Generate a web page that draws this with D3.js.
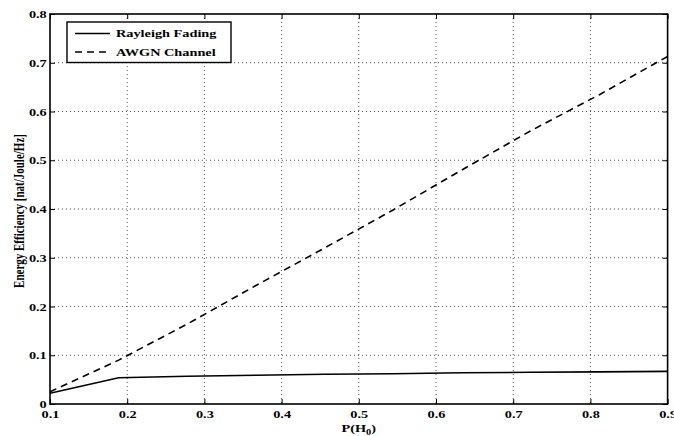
<!DOCTYPE html>
<meta charset="utf-8">
<style>
body { margin: 0; background: #fff; }
svg text { font-family: "Liberation Serif", "Times New Roman", serif; font-weight: bold; font-size: 11px; fill: #000; }
.axis path { display: none; }
.axis line { stroke: #000; stroke-width: 1; }
.grid line { stroke: #555; stroke-width: 1; stroke-dasharray: 1,3; }
</style>
<svg width="674" height="436"></svg>
<script src="https://cdn.jsdelivr.net/npm/d3@7"></script>
<script>

// P(H0) sample points
var pH0 = [0.1, 0.1889, 0.2778, 0.3667, 0.4556, 0.5444, 0.6333, 0.7222, 0.8111, 0.9];
var rayleigh = [0.022, 0.054, 0.057, 0.059, 0.061, 0.062, 0.064, 0.065, 0.066, 0.067];
var awgn = [0.025, 0.090, 0.164, 0.243, 0.320, 0.398, 0.480, 0.560, 0.634, 0.713];
var xTicks = [0.1, 0.2, 0.3, 0.4, 0.5, 0.6, 0.7, 0.8, 0.9];
var yTicks = [0, 0.1, 0.2, 0.3, 0.4, 0.5, 0.6, 0.7, 0.8];
var seriesNames = ["Rayleigh Fading", "AWGN Channel"];

var sx = 1.3; // the figure is stretched sideways

var svg = d3.select("svg"),
    margin = {top: 14, right: 6.4, bottom: 32, left: 50},
    width = +svg.attr("width") - margin.left - margin.right,
    height = +svg.attr("height") - margin.top - margin.bottom;

var x = d3.scaleLinear().domain([0.1, 0.9]).range([0, width]),
    y = d3.scaleLinear().domain([0, 0.8]).range([height, 0]);

var g = svg.append("g")
    .attr("transform", "translate(" + margin.left + "," + margin.top + ")");

// dotted grid
g.append("g").attr("class", "grid")
  .selectAll("line").data(xTicks.slice(1, -1)).enter().append("line")
    .attr("x1", function(d) { return x(d); }).attr("x2", function(d) { return x(d); })
    .attr("y1", 0).attr("y2", height);
g.append("g").attr("class", "grid")
  .selectAll("line").data(yTicks.slice(1, -1)).enter().append("line")
    .attr("y1", function(d) { return y(d); }).attr("y2", function(d) { return y(d); })
    .attr("x1", 0).attr("x2", width);

// axes with inward ticks
var xb = g.append("g").attr("class", "axis")
    .attr("transform", "translate(0," + height + ")")
    .call(d3.axisBottom(x).tickValues(xTicks).tickSize(-5).tickPadding(6).tickFormat(d3.format(".1f")));
xb.selectAll("text").attr("transform", "scale(" + sx + ",1)");

var yl = g.append("g").attr("class", "axis")
    .call(d3.axisLeft(y).tickValues(yTicks).tickSize(-5).tickPadding(2.5)
      .tickFormat(function(d) { return d === 0 ? "0" : d.toFixed(1); }));
yl.selectAll("text").attr("transform", "scale(" + sx + ",1)");

g.append("g").attr("class", "axis")
    .call(d3.axisTop(x).tickValues(xTicks).tickSize(-5).tickFormat(""));
g.append("g").attr("class", "axis")
    .attr("transform", "translate(" + width + ",0)")
    .call(d3.axisRight(y).tickValues(yTicks).tickSize(-5).tickFormat(""));

g.append("rect")
    .attr("width", width).attr("height", height)
    .attr("fill", "none").attr("stroke", "#000").attr("stroke-width", 1.6);

// lines
var line = d3.line()
    .x(function(d) { return x(d[0]); })
    .y(function(d) { return y(d[1]); });

g.append("path")
    .datum(pH0.map(function(p, i) { return [p, rayleigh[i]]; }))
    .attr("fill", "none").attr("stroke", "#000").attr("stroke-width", 1.6)
    .attr("d", line);

g.append("path")
    .datum(pH0.map(function(p, i) { return [p, awgn[i]]; }))
    .attr("fill", "none").attr("stroke", "#000").attr("stroke-width", 1.6)
    .attr("stroke-dasharray", "7,5")
    .attr("d", line);

// legend
var lg = svg.append("g").attr("transform", "translate(67,22)");
lg.append("rect")
    .attr("width", 164).attr("height", 40.5)
    .attr("fill", "#fff").attr("stroke", "#000").attr("stroke-width", 1.4);
seriesNames.forEach(function(name, i) {
  var yy = 11.5 + i * 18.5;
  lg.append("line")
      .attr("x1", 8).attr("x2", 43).attr("y1", yy).attr("y2", yy)
      .attr("stroke", "#000").attr("stroke-width", 1.6)
      .attr("stroke-dasharray", i === 1 ? "7,5" : null);
  lg.append("text")
      .attr("transform", "translate(49," + (yy + 3.7) + ") scale(" + sx + ",1)")
      .text(name);
});

// axis titles
var xt = svg.append("text")
    .attr("transform", "translate(" + (margin.left + x(0.5)) + ",432) scale(" + sx + ",1)")
    .attr("text-anchor", "middle");
xt.append("tspan").text("P(H");
xt.append("tspan").attr("dy", 3).attr("font-size", "8px").text("0");
xt.append("tspan").attr("dy", -3).text(")");

svg.append("text")
    .attr("transform", "translate(24,211) rotate(-90) scale(1," + sx + ")")
    .attr("text-anchor", "middle")
    .text("Energy Efficiency [nat/Joule/Hz]");

</script>
